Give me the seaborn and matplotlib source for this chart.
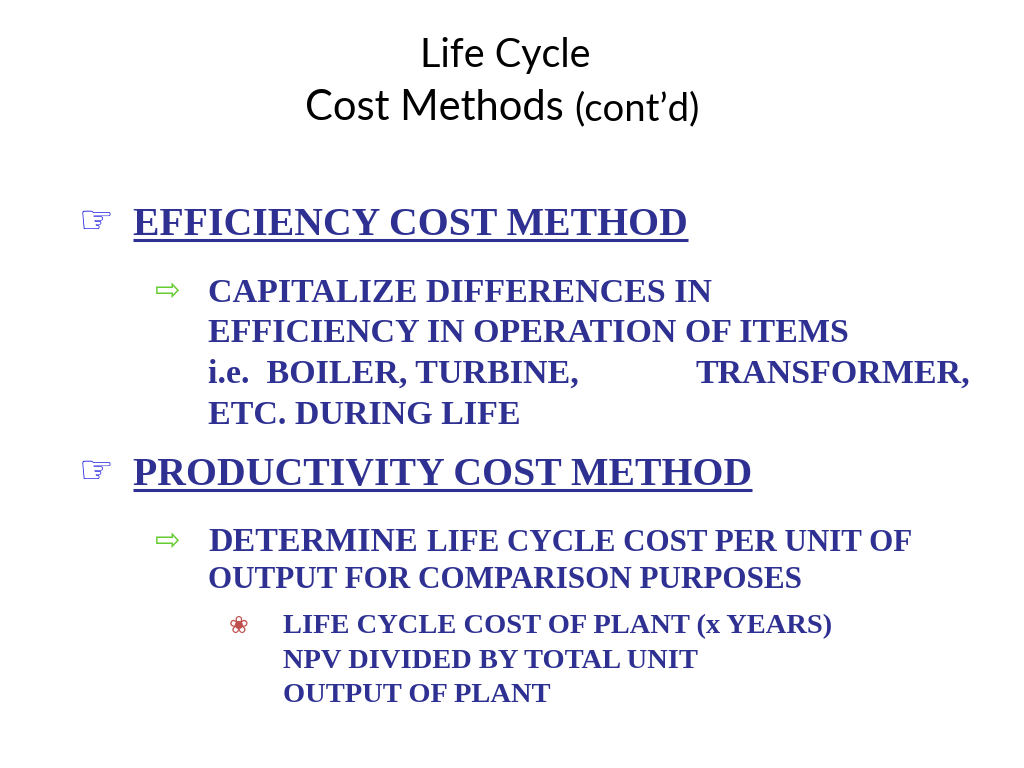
import matplotlib
matplotlib.use("Agg")
import matplotlib.pyplot as plt
import seaborn as sns

sns.set_theme(style="white")
plt.rcParams["font.family"] = ["DejaVu Sans"]

# slide text
title_lines = ["Life Cycle", "Cost Methods"]
title_suffix = "(cont\u2019d)"
headings = ["EFFICIENCY COST METHOD", "PRODUCTIVITY COST METHOD"]
efficiency_lines = ["CAPITALIZE DIFFERENCES IN",
                    "EFFICIENCY IN OPERATION OF ITEMS",
                    "i.e.  BOILER, TURBINE,",
                    "ETC. DURING LIFE"]
efficiency_extra = "TRANSFORMER,"
productivity_first = "DETERMINE"
productivity_rest = "LIFE CYCLE COST PER UNIT OF"
productivity_lines = ["OUTPUT FOR COMPARISON PURPOSES"]
sub_lines = ["LIFE CYCLE COST OF PLANT (x YEARS)",
             "NPV DIVIDED BY TOTAL UNIT",
             "OUTPUT OF PLANT"]

NAVY = "#2E3192"
HAND = "#1F1FE0"
GREEN = "#66CC33"
FLOWER = "#C0504D"
TITLE_FONT = ["Lato", "DejaVu Sans"]
SERIF = ["Liberation Serif", "DejaVu Serif"]

fig = plt.figure(figsize=(10.24, 7.68), dpi=100)
ax = fig.add_axes([0, 0, 1, 1])
ax.set_xlim(0, 1024)
ax.set_ylim(768, 0)
ax.axis("off")

# title
ax.text(505, 67, title_lines[0], ha="center", va="baseline", fontsize=28.5,
        family=TITLE_FONT, color="black")
ax.text(305, 120, title_lines[1], ha="left", va="baseline", fontsize=30,
        family=TITLE_FONT, color="black")
ax.text(574, 120, title_suffix, ha="left", va="baseline", fontsize=27.5,
        family=TITLE_FONT, color="black")

renderer = fig.canvas.get_renderer()


def underline(t, y):
    bb = t.get_window_extent(renderer).transformed(ax.transData.inverted())
    ax.plot([bb.x0, bb.x1], [y, y], color=NAVY, lw=2.2, solid_capstyle="butt")


# headings with hand bullets
for head, base in zip(headings, [235, 485]):
    ax.text(79, base - 2, "\u261E", ha="left", va="baseline", fontsize=28,
            family=["DejaVu Sans"], color=HAND)
    t = ax.text(133, base, head, ha="left", va="baseline", fontsize=28.6,
                family=SERIF, weight="bold", color=NAVY)
    underline(t, base + 5)

# efficiency block
ax.text(155, 300, "\u21E8", ha="left", va="baseline", fontsize=22,
        family=["DejaVu Sans"], color=GREEN)
for i, line in enumerate(efficiency_lines):
    ax.text(208, 302 + i * 40.5, line, ha="left", va="baseline", fontsize=24.5,
            family=SERIF, weight="bold", color=NAVY)
ax.text(695, 383, efficiency_extra, ha="left", va="baseline", fontsize=24.5,
        family=SERIF, weight="bold", color=NAVY)

# productivity block
ax.text(155, 550, "\u21E8", ha="left", va="baseline", fontsize=22,
        family=["DejaVu Sans"], color=GREEN)
ax.text(208, 551, productivity_first, ha="left", va="baseline", fontsize=24.5,
        family=SERIF, weight="bold", color=NAVY)
ax.text(427, 551, productivity_rest, ha="left", va="baseline", fontsize=22.3,
        family=SERIF, weight="bold", color=NAVY)
for i, line in enumerate(productivity_lines):
    ax.text(208, 588 + i * 38, line, ha="left", va="baseline", fontsize=22.4,
            family=SERIF, weight="bold", color=NAVY)

# sub-bullet block
ax.text(229, 633, "\u2740", ha="left", va="baseline", fontsize=17,
        family=["DejaVu Sans"], color=FLOWER)
for i, line in enumerate(sub_lines):
    ax.text(283, 633 + i * 34.5, line, ha="left", va="baseline", fontsize=20.5,
            family=SERIF, weight="bold", color=NAVY)

fig.savefig("out.png", dpi=100)
